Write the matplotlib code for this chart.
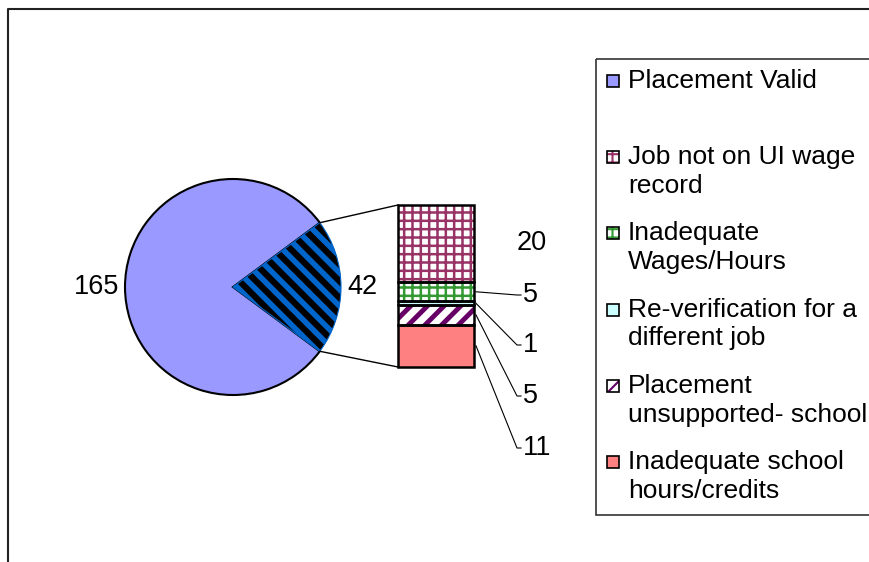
import numpy as np
import matplotlib.pyplot as plt
from matplotlib.patches import Rectangle

plt.rcParams["font.family"] = ["Liberation Sans", "DejaVu Sans"]

# data
pie_labels = ["Placement Valid", "Other"]
pie_values = [165, 42]

bar_labels = ["Job not on UI wage\nrecord", "Inadequate\nWages/Hours",
              "Re-verification for a\ndifferent job", "Placement\nunsupported- school",
              "Inadequate school\nhours/credits"]
bar_values = [20, 5, 1, 5, 11]

W, H = 870, 562
fig = plt.figure(figsize=(W / 100, H / 100), dpi=100)
ax = fig.add_axes([0, 0, 1, 1])

# pie on the left
cx, cy, r = 233, 287, 108
half = 180 * pie_values[1] / sum(pie_values)
with plt.rc_context({"hatch.linewidth": 4.0}):
    wedges, _ = ax.pie(pie_values, center=(cx, cy), radius=r, startangle=half,
                       wedgeprops=dict(linewidth=1.5, edgecolor="black"))
    wedges[0].set_facecolor("#9999FF")
    wedges[1].set_facecolor("black")
    wedges[1].set_edgecolor("#0066CC")
    wedges[1].set_hatch("\\\\")
    wedges[1].set_linewidth(0.8)

ax.text(cx - r - 6, cy, str(pie_values[0]), ha="right", va="center", fontsize=19.5)
ax.text(cx + r + 6, cy, str(pie_values[1]), ha="left", va="center", fontsize=19.5)

# stacked bar of the "other" slice
bar_x, bar_w = 436, 76
bar_top, bar_h = 205, 162
scale = bar_h / sum(bar_values)
face = ["white", "white", "#CCFFFF", "white", "#FF8080"]
hcol = ["#993366", "#339933", "#CCFFFF", "#660066", "#FF8080"]
hatch = ["++", "++", None, "//", None]
hlw = [1.8, 1.8, 1.0, 3.5, 1.0]
heights = np.array(bar_values) * scale
bottoms = bar_top + np.concatenate([[0], np.cumsum(heights)[:-1]])
for i in range(len(bar_values)):
    with plt.rc_context({"hatch.linewidth": hlw[i]}):
        ax.bar(bar_x, heights[i], bar_w, bottom=bottoms[i], color=face[i],
               edgecolor=hcol[i], hatch=hatch[i], linewidth=0)
ax.bar(bar_x, heights, bar_w, bottom=bottoms, fill=False, edgecolor="black", linewidth=1.8)

# lines from pie to bar
ang = np.deg2rad(half)
ax.plot([cx + r * np.cos(ang), bar_x - bar_w / 2], [cy - r * np.sin(ang), bar_top],
        color="black", lw=1)
ax.plot([cx + r * np.cos(ang), bar_x - bar_w / 2], [cy + r * np.sin(ang), bar_top + bar_h],
        color="black", lw=1)

# value labels with leaders
label_y = [243, 295, 345, 396, 448]
mids = bottoms + heights / 2
for i, v in enumerate(bar_values):
    if i > 0:
        ax.plot([bar_x + bar_w / 2 + 2, 517, 521], [mids[i], label_y[i], label_y[i]],
                color="black", lw=0.8)
    ax.text(523 if i else 517, label_y[i], str(v), ha="left", va="center", fontsize=19.5)

# legend box (runs off the right edge)
ax.add_patch(Rectangle((596, 59), 400, 456, fill=False, edgecolor="#333333", lw=1.2))
leg_face = ["#9999FF"] + face
leg_hcol = ["black", "#993366", "#339933", "black", "#660066", "black"]
leg_hatch = [None, "++", "++", None, "//", None]
leg_text = [pie_labels[0]] + bar_labels
for i in range(6):
    y = 81 + i * 76.2
    with plt.rc_context({"hatch.linewidth": 1.5}):
        ax.add_patch(Rectangle((607, y - 6), 12, 12, facecolor=leg_face[i],
                               edgecolor=leg_hcol[i], hatch=leg_hatch[i], lw=0))
    ax.add_patch(Rectangle((607, y - 6), 12, 12, fill=False, edgecolor="black", lw=1.2))
    ax.text(628, y - 12, leg_text[i], ha="left", va="top", fontsize=19, linespacing=1.25)

# outer frame, cut off at right and bottom
ax.plot([8.5, 8.5, W], [H, 8.5, 8.5], color="#222222", lw=1.5)

ax.set_xlim(0, W)
ax.set_ylim(H, 0)
ax.set_aspect("auto")
ax.axis("off")

fig.savefig("out.png", dpi=100)
